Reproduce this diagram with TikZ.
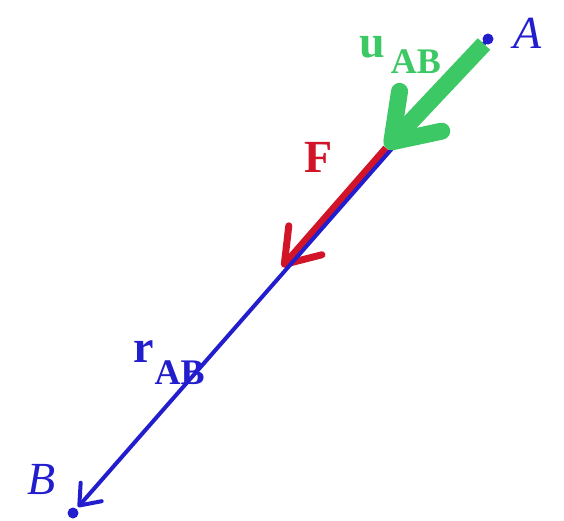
\documentclass[tikz,border=0pt]{standalone}
\usepackage{fontspec}
\setmainfont{Liberation Serif}
\usetikzlibrary{arrows.meta}
\definecolor{vblue}{RGB}{35,30,205}
\definecolor{vgreen}{RGB}{60,200,100}
\definecolor{vred}{RGB}{210,20,40}
\newcommand{\subAB}[2]{\raisebox{-#1}{\fontsize{36pt}{36pt}\selectfont\textbf{#2}}}
\tikzset{
  lbl/.style={anchor=base west, inner sep=0pt, font=\fontsize{46pt}{46pt}\selectfont},
  ptdot/.style={circle, fill=vblue, inner sep=0pt, minimum size=11pt},
  rvec/.style={vblue, line width=4pt, -{Straight Barb[length=18pt,width=28pt,round]}},
  fvec/.style={vred, line width=7pt, -{Straight Barb[length=32pt,width=44pt,round]}},
  uvec/.style={vgreen, line width=17pt, -{Straight Barb[length=42pt,width=58pt,round]}}
}
\begin{document}
\begin{tikzpicture}[x=1pt,y=-1pt]
\useasboundingbox (0,0) rectangle (564,520);
\coordinate (A) at (488,39);
\coordinate (Ag) at (484,44);
\coordinate (B) at (73,513);
\coordinate (Btip) at (78,507);
\coordinate (gtip) at (386,148);
\coordinate (rtip) at (282,267);
\draw[fvec] (gtip) -- (rtip);
\draw[rvec] (A) -- (Btip);
\draw[uvec] (Ag) -- (gtip);
\node[ptdot] (dA) at (A) {};
\node[ptdot] (dB) at (B) {};
\node[lbl, text=vblue] (la) at (513,48) {\textit{A}};
\node[lbl, text=vblue] (lb) at (27,494) {\textit{B}};
\node[lbl, text=vgreen] (lu) at (359,57) {\textbf{u}\kern6pt\subAB{16pt}{AB}};
\node[lbl, text=vred] (lf) at (304,172) {\textbf{F}};
\node[lbl, text=vblue] (lr) at (133,362) {\textbf{r}\kern1pt\subAB{22pt}{AB}};
\end{tikzpicture}
\end{document}
